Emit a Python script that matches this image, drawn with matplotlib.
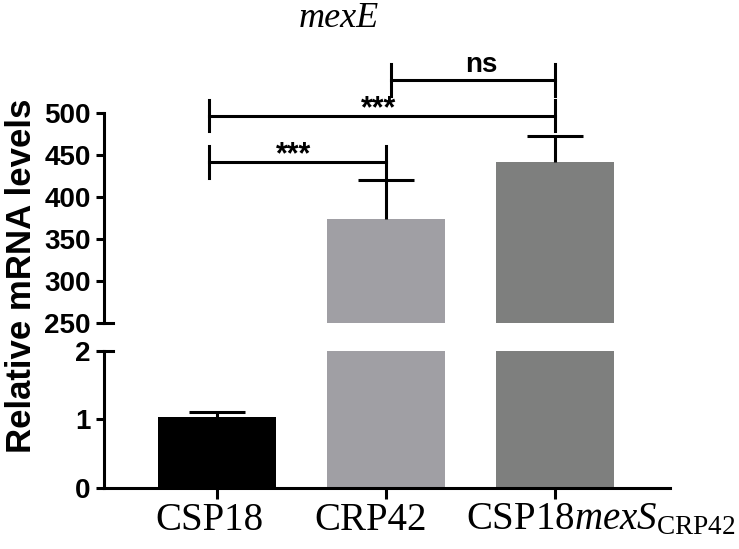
import numpy as np
import matplotlib
matplotlib.use('Agg')
import matplotlib.pyplot as plt
import matplotlib.transforms as mtransforms

# data
groups = ['CSP18', 'CRP42', 'CSP18$\\mathit{mexS}_{\\mathrm{CRP42}}$']
means = [1.04, 373.7, 442.0]
errs = [0.07, 47.0, 31.0]
colors = ['#000000', '#a09fa4', '#7e7f7e']
lower_ticks = [0, 1, 2]
upper_ticks = [250, 300, 350, 400, 450, 500]
# significance brackets: (x start, x end, y, label)
brackets = [(-0.05, 1.0, 442, '***'),
            (-0.05, 2.0, 497, '***'),
            (1.03, 2.0, 539, 'ns')]

plt.rcParams['mathtext.fontset'] = 'custom'
plt.rcParams['mathtext.rm'] = 'Liberation Serif'
plt.rcParams['mathtext.it'] = 'Liberation Serif:italic'

fig = plt.figure(figsize=(7.39, 5.49), dpi=100)
ax_up = fig.add_axes([0.1407, 0.4122, 0.766, 0.382])
ax_lo = fig.add_axes([0.1407, 0.1117, 0.766, 0.249])

x = np.arange(len(groups))
lw = 2.2
for ax in (ax_up, ax_lo):
    ax.bar(x, means, width=0.7, color=colors)
    eb = ax.errorbar(x, means, yerr=[np.zeros(3), errs], fmt='none', ecolor='black',
                     elinewidth=lw, capsize=20, capthick=lw)
    eb[1][0].set_visible(False)  # no cap on the lower side
    ax.set_xlim(-0.669, 2.68)
    for s in ['top', 'right']:
        ax.spines[s].set_visible(False)
    ax.spines['left'].set_linewidth(lw)
    ax.tick_params(axis='y', length=6, width=lw, labelsize=20)

ax_up.set_ylim(250, 500)
ax_up.set_yticks(upper_ticks)
ax_up.spines['bottom'].set_visible(False)
ax_up.set_xticks([])
ax_lo.set_ylim(0, 2)
ax_lo.set_yticks(lower_ticks)
ax_lo.spines['bottom'].set_linewidth(lw)
ax_lo.set_xticks(x)
ax_lo.set_xticklabels(groups, fontfamily='Liberation Serif', fontsize=28)
ax_lo.tick_params(axis='x', length=8, width=lw, pad=2)
for ax in (ax_up, ax_lo):
    for t in ax.get_yticklabels():
        t.set_fontfamily('Liberation Sans')
        t.set_fontweight('bold')

# shift tick labels a little like the original
shifts = [-8, -15, 46]
for lab, dx in zip(ax_lo.get_xticklabels(), shifts):
    lab.set_transform(lab.get_transform() + mtransforms.ScaledTranslation(dx / 100, 0, fig.dpi_scale_trans))

# axis break marks
ax_up.plot([0, 0.016], [250, 250], color='black', lw=lw, transform=ax_up.get_yaxis_transform(), clip_on=False)
ax_lo.plot([0, 0.016], [2, 2], color='black', lw=lw, transform=ax_lo.get_yaxis_transform(), clip_on=False)

# significance brackets
leg = 19
for x0, x1, y, lab in brackets:
    ax_up.plot([x0, x1], [y, y], color='black', lw=lw, clip_on=False)
    for xx in (x0, x1):
        ax_up.plot([xx, xx], [y - leg, y + leg], color='black', lw=lw, clip_on=False)
    xm = (x0 + x1) / 2
    if lab == 'ns':
        ax_up.text(xm + 0.05, y + 3, lab, ha='center', va='bottom', fontsize=20,
                   fontweight='bold', fontfamily='Liberation Sans', clip_on=False)
    else:
        ax_up.text(xm - 0.02, y - 10, lab, ha='center', va='bottom', fontsize=22,
                   fontweight='bold', fontfamily='Liberation Sans', clip_on=False)

fig.text(22 / 739, 1 - 276 / 549, 'Relative mRNA levels', rotation=90, ha='center', va='center',
         fontsize=25, fontweight='bold', fontfamily='Liberation Sans')
fig.text(339 / 739, 1 - 27 / 549, 'mexE', ha='center', va='baseline', fontsize=26,
         fontstyle='italic', fontfamily='Liberation Serif')

fig.savefig('out.png', dpi=100)
